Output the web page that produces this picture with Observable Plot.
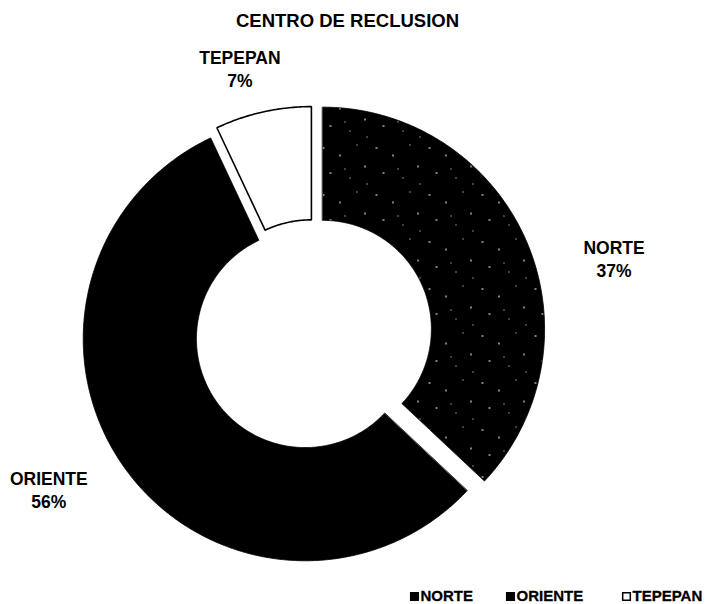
<!DOCTYPE html>
<html><head><meta charset="utf-8">
<script src="https://cdn.jsdelivr.net/npm/d3@7"></script>
<script src="https://cdn.jsdelivr.net/npm/@observablehq/plot@0.6"></script>
<style>body{margin:0;background:#fff} svg{font-family:"Liberation Sans",Arial,sans-serif;display:block}</style>
</head><body><div id="chart"></div>
<script>
const categories = ["NORTE", "ORIENTE", "TEPEPAN"];
const values = [37, 56, 7];
const percentLabels = ["37%", "56%", "7%"];
const chartTitle = "CENTRO DE RECLUSION";

// layout / style
const W = 706, H = 604, CX = 312, CY = 333, RPX = 222;
const inner = 0.49;
const explodePx = [11, 9, 5];
const fills = ["url(#speck)", "#000", "#fff"];
const labelShiftDeg = [9.4, 5.4, -2.7], labelRad = [1.40, 1.38, 1.24];
const legendPx = [414, 510, 626], legendYPx = 596;

const data = categories.map((name, i) => ({name, value: values[i], pct: percentLabels[i], i}));
const arcs = d3.pie().sort(null).value(d => d.value).startAngle(0).endAngle(2 * Math.PI)(data);

const pts = [];
arcs.forEach(a => {
  const mid = (a.startAngle + a.endAngle) / 2;
  const e = explodePx[a.data.i] / RPX;
  const ox = Math.sin(mid) * e, oy = Math.cos(mid) * e;
  const n = Math.max(8, Math.ceil((a.endAngle - a.startAngle) / 0.01));
  for (let k = 0; k <= n; k++) {
    const t = a.startAngle + (a.endAngle - a.startAngle) * k / n;
    pts.push({name: a.data.name, x: ox + Math.sin(t), y: oy + Math.cos(t)});
  }
  for (let k = n; k >= 0; k--) {
    const t = a.startAngle + (a.endAngle - a.startAngle) * k / n;
    pts.push({name: a.data.name, x: ox + inner * Math.sin(t), y: oy + inner * Math.cos(t)});
  }
});

const labelPos = a => {
  const i = a.data.i;
  const ang = (a.startAngle + a.endAngle) / 2 + labelShiftDeg[i] * Math.PI / 180;
  return [Math.sin(ang) * labelRad[i], Math.cos(ang) * labelRad[i]];
};
const u = px => (px - CX) / RPX;
const v = py => (CY - py) / RPX;

const sliceMarks = data.map(d => Plot.line(pts.filter(p => p.name === d.name), {
  x: "x", y: "y", curve: "linear-closed",
  fill: fills[d.i], stroke: "#000", strokeWidth: d.i === 2 ? 1.6 : 0.8, strokeLinejoin: "miter"
}));

const svg = Plot.plot({
  width: W, height: H, margin: 0,
  x: {domain: [u(0), u(W)], axis: null},
  y: {domain: [v(H), v(0)], axis: null},
  marks: [
    ...sliceMarks,
    Plot.text([chartTitle], {x: u(347), y: v(21), text: d => d, fontSize: 18.5, fontWeight: "bold", fill: "#000"}),
    Plot.text(arcs, {x: a => labelPos(a)[0], y: a => labelPos(a)[1], text: a => a.data.name + "\n" + a.data.pct,
      fontSize: 17.5, fontWeight: "bold", lineHeight: 1.3, fill: "#000"}),
    Plot.dot(data, {x: d => u(legendPx[d.i]), y: v(legendYPx), symbol: "square", r: 4.3,
      fill: d => d.i === 2 ? "#fff" : "#000", stroke: "#000", strokeWidth: 1.5}),
    Plot.text(data, {x: d => u(legendPx[d.i] + 6), y: v(legendYPx), text: "name", textAnchor: "start",
      fontSize: 15, fontWeight: "bold", fill: "#000", stroke: "#000", strokeWidth: 0.3})
  ]
});

// sparse speckle texture for NORTE
const defs = d3.select(svg).insert("defs", ":first-child");
const pat = defs.append("pattern").attr("id", "speck").attr("patternUnits", "userSpaceOnUse")
  .attr("width", 53).attr("height", 47);
pat.append("rect").attr("width", 53).attr("height", 47).attr("fill", "#000");
[[4,6,2,1],[21,13,1,2],[38,3,1,1],[11,31,2,1],[31,36,1,1],[46,24,1,2],[26,27,1,1],[48,42,1,1]].forEach(([x,y,w,h]) =>
  pat.append("rect").attr("x", x).attr("y", y).attr("width", w).attr("height", h).attr("fill", "#fff"));

document.getElementById("chart").appendChild(svg);
</script></body></html>
